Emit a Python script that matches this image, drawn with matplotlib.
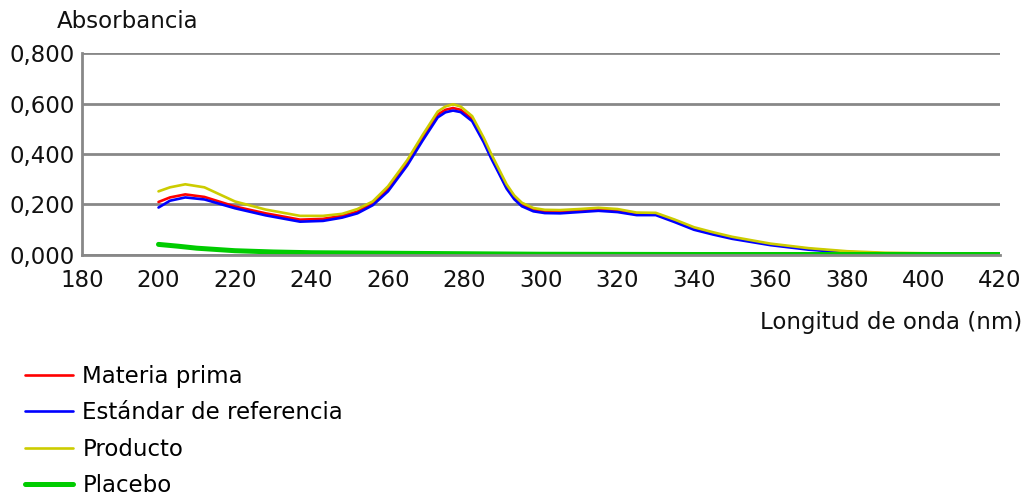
import matplotlib
matplotlib.use("Agg")
import matplotlib.pyplot as plt

# longitudes de onda (nm)
wl = [200, 203, 207, 212, 220, 228, 237, 243, 248, 252, 256, 260, 265, 269, 273,
      275, 277, 279, 282, 285, 287, 289, 291, 293, 295, 298, 301, 305, 310, 315,
      320, 325, 330, 335, 340, 345, 350, 360, 370, 380, 390, 400, 410, 420]

materia_prima = [0.210, 0.228, 0.240, 0.230, 0.192, 0.165, 0.140, 0.143, 0.155, 0.172,
                 0.205, 0.262, 0.364, 0.462, 0.556, 0.575, 0.582, 0.575, 0.538, 0.455,
                 0.390, 0.330, 0.270, 0.228, 0.200, 0.180, 0.172, 0.170, 0.175, 0.180,
                 0.175, 0.163, 0.163, 0.135, 0.105, 0.085, 0.068, 0.042, 0.024, 0.012,
                 0.006, 0.004, 0.003, 0.003]
estandar = [0.188, 0.215, 0.228, 0.220, 0.185, 0.157, 0.132, 0.135, 0.148, 0.165,
            0.197, 0.252, 0.354, 0.452, 0.545, 0.565, 0.572, 0.566, 0.530, 0.447,
            0.382, 0.323, 0.263, 0.221, 0.193, 0.173, 0.166, 0.165, 0.170, 0.175,
            0.170, 0.158, 0.158, 0.130, 0.100, 0.081, 0.064, 0.039, 0.021, 0.010,
            0.005, 0.003, 0.002, 0.002]
producto = [0.252, 0.268, 0.280, 0.268, 0.212, 0.180, 0.155, 0.155, 0.163, 0.182,
            0.212, 0.272, 0.375, 0.474, 0.568, 0.588, 0.597, 0.588, 0.550, 0.465,
            0.400, 0.340, 0.280, 0.236, 0.207, 0.186, 0.179, 0.178, 0.182, 0.187,
            0.182, 0.168, 0.167, 0.140, 0.110, 0.090, 0.072, 0.045, 0.027, 0.015,
            0.009, 0.007, 0.006, 0.006]

wl_placebo = [200, 205, 210, 220, 230, 240, 260, 280, 300, 340, 380, 420]
placebo = [0.042, 0.035, 0.027, 0.017, 0.012, 0.009, 0.007, 0.005, 0.003, 0.002, 0.002, 0.002]

xticks = list(range(180, 421, 20))
yticks = [0.0, 0.2, 0.4, 0.6, 0.8]

plt.rcParams['font.family'] = ['DejaVu Sans']
fs = 16.5

fig = plt.figure(figsize=(10.29, 4.99), dpi=100)
ax = fig.add_axes([82/1029, 1 - 255/499, (1000 - 82)/1029, (255 - 53)/499])

ax.plot(wl, materia_prima, color='#ff0000', lw=1.9, label='Materia prima', solid_capstyle='round')
ax.plot(wl, estandar, color='#0000ff', lw=1.9, label='Estándar de referencia', solid_capstyle='round')
ax.plot(wl, producto, color='#cccc00', lw=1.9, label='Producto', solid_capstyle='round')
ax.plot(wl_placebo, placebo, color='#00cc00', lw=3.6, label='Placebo', solid_capstyle='round')

ax.set_xlim(180, 420)
ax.set_ylim(0, 0.8)
ax.set_xticks(xticks)
ax.set_xticklabels([str(t) for t in xticks])
ax.set_yticks(yticks)
ax.set_yticklabels([f"{v:.3f}".replace('.', ',') for v in yticks])
ax.tick_params(length=0, labelsize=fs, colors='#111111')
ax.tick_params(axis='x', pad=10)
ax.tick_params(axis='y', pad=5)
ax.grid(axis='y', color='#888888', lw=2)
ax.set_axisbelow(True)
for s in ['top', 'right']:
    ax.spines[s].set_visible(False)
for s in ['left', 'bottom']:
    ax.spines[s].set_color('#888888')
    ax.spines[s].set_linewidth(2)

fig.text(57/1029, 1 - 22/499, 'Absorbancia', fontsize=fs, ha='left', va='center', color='#111111')
fig.text(1022/1029, 1 - 322/499, 'Longitud de onda (nm)', fontsize=fs, ha='right', va='center', color='#111111')

handles, labels = ax.get_legend_handles_labels()
fig.legend(handles, labels, loc='upper left', bbox_to_anchor=(25/1029, 1 - 365/499),
           frameon=False, fontsize=fs, handlelength=2.1, handletextpad=0.4,
           labelspacing=0.58, borderaxespad=0, borderpad=0)

fig.savefig('out.png', dpi=100)
